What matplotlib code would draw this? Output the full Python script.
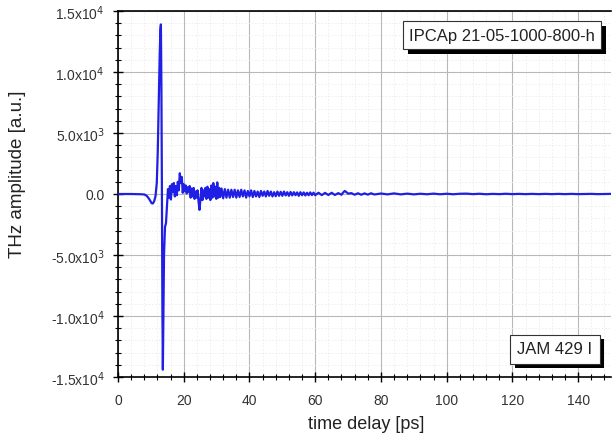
import matplotlib
matplotlib.use("Agg")
import matplotlib.pyplot as plt
import matplotlib.patheffects as pe
from matplotlib.ticker import MultipleLocator, FixedLocator

plt.rcParams['font.family'] = ['Liberation Sans', 'DejaVu Sans']

# time delay [ps]
time_ps = [0, 2, 4, 6, 7, 8, 8.6, 9.2, 9.8, 10.2, 10.6, 11.0, 11.4, 11.8, 12.1, 12.4, 12.7, 12.9, 13.05,
           13.2, 13.35, 13.5, 13.65, 13.8, 14.0, 14.3, 14.6, 14.9, 15.2, 15.5, 15.8, 16.1, 16.4, 16.7,
           17.0, 17.3, 17.6, 17.9, 18.2, 18.5, 18.8, 19.1, 19.4, 19.7, 20.0, 20.3, 20.6, 20.9, 21.2,
           21.5, 21.8, 22.1, 22.4, 22.7, 23.0, 23.3, 23.6, 23.9, 24.2, 24.5, 24.8, 25.1, 25.4, 25.7,
           26.0, 26.3, 26.6, 26.9, 27.2, 27.5, 27.8, 28.1, 28.4, 28.7, 29.0, 29.3, 29.6, 29.9, 30.2,
           30.5, 30.8, 31.1, 31.5, 32.0, 32.5, 33.0, 33.5, 34.0, 34.5, 35.0, 35.5, 36.0, 36.5, 37.0,
           37.5, 38.0, 38.5, 39.0, 39.5, 40.0, 40.5, 41.0, 41.5, 42.0, 42.5, 43.0, 43.5, 44.0, 44.5,
           45.0, 45.5, 46.0, 46.5, 47.0, 47.5, 48.0, 48.5, 49.0, 49.5, 50.0, 50.5, 51.0, 51.5, 52.0,
           52.5, 53.0, 53.5, 54.0, 54.5, 55.0, 55.5, 56.0, 56.5, 57.0, 57.5, 58.0, 58.5, 59.0, 59.5,
           60.0, 61.0, 62.0, 63.0, 64.0, 65.0, 66.0, 67.0, 68.0, 68.5, 69.0, 69.5, 70.0, 71.0, 72.0,
           73.0, 74.0, 75.0, 76.0, 77.0, 78.0, 80.0, 82.0, 84.0, 86.0, 88.0, 90.0, 92.0, 94.0, 96.0,
           98.0, 100.0, 102.0, 104.0, 106.0, 108.0, 110.0, 112.0, 114.0, 116.0, 118.0, 120.0, 122.0, 124.0,
           126.0, 128.0, 130.0, 132.0, 134.0, 136.0, 138.0, 140.0, 142.0, 144.0, 146.0, 148.0, 150.0]

# THz amplitude [a.u.]
amplitude = [0, 0, 0, -10, -20, -40, -120, -300, -550, -750, -780, -600, -200, 900, 3500, 7500, 11500, 13500, 13900,
             9000, 1000, -9000, -14400, -10500, -5000, -2700, -2400, -1000, 400, -300, 650, -450, 800, 150,
             900, -200, 650, -100, 1000, 300, 1700, 900, 1400, 100, 800, 250, 700, 50, 550,
             150, 650, -300, 450, -200, 500, -400, 200, -300, 300, -600, -1300, -400, 500, -500,
             300, -200, 500, -400, 600, -300, 400, -500, 700, -300, 900, -200, 600, -400, 950,
             -300, 500, -250, 450, -350, 400, -300, 350, -300, 350, -250, 350, -300, 300, -250,
             350, -200, 300, -300, 250, -200, 300, -250, 250, -200, 200, -250, 250, -150, 200,
             -200, 250, -150, 200, -200, 150, -180, 200, -150, 180, -150, 200, -120, 150, -150,
             170, -120, 150, -100, 130, -150, 150, -100, 130, -120, 100, -100, 130, -90, 110,
             -100, 100, -90, 90, -80, 100, -80, 70, -60, 120, 250, 150, 30, 70, -60,
             60, -60, 50, -50, 60, -40, 40, -30, 50, -30, 30, -30, 20, -20, 30,
             -20, 20, -20, 20, 30, -10, 20, -20, 10, -10, 20, -10, 10, -10,
             10, -10, 10, -10, 10, -10, 10, -10, 0, 10, -10, 0, 10]

x_ticks = [0, 20, 40, 60, 80, 100, 120, 140]
y_ticks = [-15000, -10000, -5000, 0, 5000, 10000, 15000]
y_tick_labels = [r'-1.5x10$^4$', r'-1.0x10$^4$', r'-5.0x10$^3$', '0.0',
                 r'5.0x10$^3$', r'1.0x10$^4$', r'1.5x10$^4$']

fig = plt.figure(figsize=(6.13, 4.39), dpi=100)
ax = fig.add_axes([118/613, 1-378/439, 493/613, 366/439])

ax.plot(time_ps, amplitude, color='#1f1fe6', lw=1.6, zorder=3)

ax.set_xlim(0, 150)
ax.set_ylim(-15000, 15000)
ax.xaxis.set_major_locator(FixedLocator(x_ticks))
ax.xaxis.set_minor_locator(MultipleLocator(4))
ax.set_yticks(y_ticks)
ax.set_yticklabels(y_tick_labels)
ax.yaxis.set_minor_locator(MultipleLocator(1000))

ax.grid(which='major', color='#b8b8b8', lw=0.8, zorder=0)
ax.grid(which='minor', color='#ececec', lw=0.6, ls=(0, (2, 2)), zorder=0)

ax.tick_params(which='major', direction='inout', length=7, width=1.0, labelsize=10,
               labelcolor='#333333', top=False, right=False)
ax.tick_params(axis='x', which='major', pad=8)
ax.tick_params(axis='y', which='major', pad=6)
ax.tick_params(which='minor', direction='inout', length=4, width=0.8, top=False, right=False)
for s in ['left', 'bottom', 'top']:
    ax.spines[s].set_linewidth(1.2)
ax.spines['right'].set_visible(False)

fig.text(366/613, 1-425/439, 'time delay [ps]', fontsize=13, color='#222222',
         ha='center', va='center')
fig.text(18/613, 1-174/439, 'THz amplitude [a.u.]', fontsize=13.5, color='#222222',
         ha='center', va='center', rotation=90)

shadow = [pe.SimplePatchShadow(offset=(3.5, -3.5), shadow_rgbFace='black', alpha=1.0), pe.Normal()]
t1 = fig.text(502/613, 1-36/439, 'IPCAp 21-05-1000-800-h', fontsize=12, color='#222222',
              ha='center', va='center',
              bbox=dict(boxstyle='square,pad=0.38', fc='white', ec='#333333', lw=0.8))
t1.get_bbox_patch().set_path_effects(shadow)
t2 = fig.text(555/613, 1-350/439, 'JAM 429 I', fontsize=12, color='#222222',
              ha='center', va='center',
              bbox=dict(boxstyle='square,pad=0.42', fc='white', ec='#333333', lw=0.8))
t2.get_bbox_patch().set_path_effects(shadow)

fig.savefig('out.png', dpi=100)
